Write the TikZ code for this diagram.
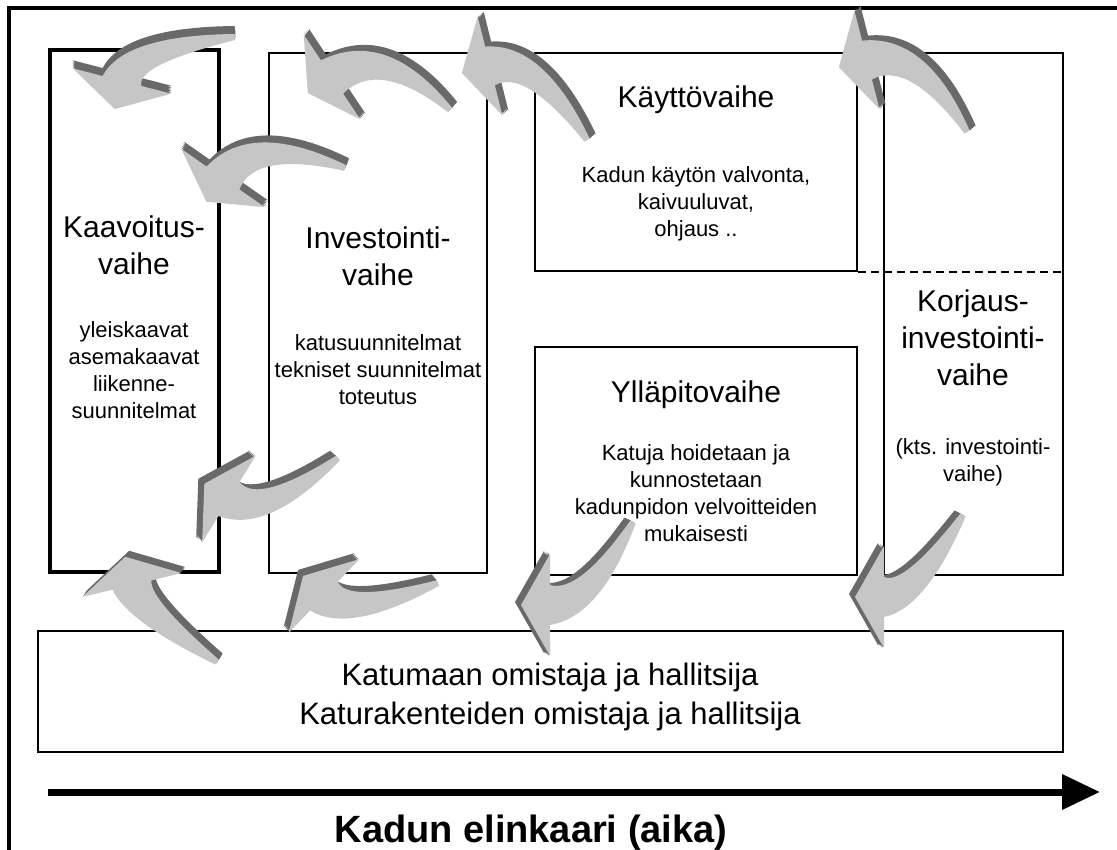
\documentclass[tikz,border=0pt]{standalone}
\usepackage{fontspec}
\setmainfont{Liberation Sans}
\usepackage{tikz}
\usetikzlibrary{arrows.meta, calc}

\definecolor{kaarivalo}{RGB}{198,198,198}
\definecolor{kaaritumma}{RGB}{105,105,105}

% kaareva nuoli: hanta (x,y), ohjauspiste (x,y), karjen tyvi (x,y), varjon siirto (x,y)
\newcommand{\kaarinuoli}[8]{%
\foreach \s in {1,0.8,0.6,0.4,0.2,0} {
  \pgfmathsetmacro{\kdx}{\s*#7}
  \pgfmathsetmacro{\kdy}{\s*#8}
  \ifdim\s pt>0pt \def\kvari{kaaritumma}\else\def\kvari{kaarivalo}\fi
  \coordinate (kt) at ({#1+\kdx},{#2+\kdy});
  \coordinate (kc) at ({#3+\kdx},{#4+\kdy});
  \coordinate (kb) at ({#5+\kdx},{#6+\kdy});
  \coordinate (kn) at ($(kt)!16pt!-90:(kb)$);
  \coordinate (kcr) at ($(kc)+(kn)-(kt)$);
  \coordinate (kcl) at ($(kc)-(kn)+(kt)$);
  \coordinate (ktr) at ($(kt)!3pt!-90:(kc)$);
  \coordinate (ktl) at ($(kt)!3pt!90:(kc)$);
  \coordinate (kbr) at ($(kb)!20pt!90:(kc)$);
  \coordinate (kbl) at ($(kb)!20pt!-90:(kc)$);
  \fill[\kvari] (ktr) .. controls ($(ktr)!0.667!(kcr)$) and ($(kbr)!0.667!(kcr)$) .. (kbr)
     -- ($(kb)!51pt!90:(kc)$) -- ($(kb)!-29pt!(kc)$) -- ($(kb)!51pt!-90:(kc)$)
     -- (kbl) .. controls ($(kbl)!0.667!(kcl)$) and ($(ktl)!0.667!(kcl)$) .. (ktl) -- cycle;
}}

\begin{document}
\begin{tikzpicture}[x=1pt, y=-1pt,
  laatikko/.style={draw, line width=1.6pt, inner sep=0pt},
  otsikko/.style={align=center, font=\fontsize{30}{37}\selectfont},
  selite/.style={align=center, font=\fontsize{22}{27}\selectfont}]
\useasboundingbox (0,0) rectangle (1117,850);

% kehys
\draw[line width=3.5pt] (9,850) -- (9,8) -- (1117,8);

% vaiheet
\path (134.5,311) node[laatikko, line width=4pt, minimum width=169pt, minimum height=522pt] (kaav) {}
      (378,313) node[laatikko, minimum width=218pt, minimum height=520pt] (inv) {}
      (696,162) node[laatikko, minimum width=322pt, minimum height=218pt] (kayt) {}
      (973.5,314) node[laatikko, minimum width=179pt, minimum height=522pt] (korj) {}
      (696,461) node[laatikko, minimum width=322pt, minimum height=228pt] (yll) {}
      (550.5,691.5) node[laatikko, minimum width=1025pt, minimum height=121pt] (omis) {};
\draw[line width=1.5pt, dash pattern=on 8pt off 5pt] (kayt.south east) -- (korj.east |- kayt.south);

\path (134,245) node[otsikko] (kaavT) {Kaavoitus-\\vaihe}
      (134,370) node[selite] (kaavS) {yleiskaavat\\asemakaavat\\liikenne-\\suunnitelmat}
      (378,256) node[otsikko] (invT) {Investointi-\\vaihe}
      (378,370) node[selite] (invS) {katusuunnitelmat\\tekniset suunnitelmat\\toteutus}
      (696,100) node[otsikko] (kaytT) {Käyttövaihe}
      (696,204) node[selite] (kaytS) {Kadun käytön valvonta,\\kaivuuluvat,\\ohjaus ..}
      (973,338) node[otsikko] (korjT) {Korjaus-\\investointi-\\vaihe}
      (973,462) node[selite] (korjS) {(kts. investointi-\\vaihe)}
      (696,395) node[otsikko] (yllT) {Ylläpitovaihe}
      (696,493) node[selite] (yllS) {Katuja hoidetaan ja\\kunnostetaan\\kadunpidon velvoitteiden\\mukaisesti}
      (550,697) node[align=center, font=\fontsize{31}{39}\selectfont] (omisT) {Katumaan omistaja ja hallitsija\\Katurakenteiden omistaja ja hallitsija};

% aika-akseli
\coordinate (alku) at (48,792);
\coordinate (loppu) at (1100,792);
\draw[line width=7pt, -{Triangle[length=38pt, width=34pt]}] (alku) -- (loppu);
\node[font=\bfseries\fontsize{38}{40}\selectfont] (aika) at (531,833) {Kadun elinkaari (aika)};

% kiertonuolet
\kaarinuoli{235}{37}{130}{50}{122}{81}{0}{-8}
\kaarinuoli{450}{110}{383}{43}{332}{77}{5}{-6}
\kaarinuoli{587}{140}{534}{55}{490}{66}{6}{-5}
\kaarinuoli{967}{132}{918}{47}{867}{60}{6}{-5}
\kaarinuoli{345}{168}{253}{135}{223}{178}{3}{-7}
\kaarinuoli{338}{458}{263}{520}{229}{499}{-6}{-5}
\kaarinuoli{217}{662}{138}{610}{132}{585}{4}{-6}
\kaarinuoli{438}{583}{348}{619}{324}{596}{-5}{-6}
\kaarinuoli{633}{522}{590}{605}{550}{605}{-6}{-3}
\kaarinuoli{963}{515}{915}{597}{884}{597}{-6}{-3}
\end{tikzpicture}
\end{document}
